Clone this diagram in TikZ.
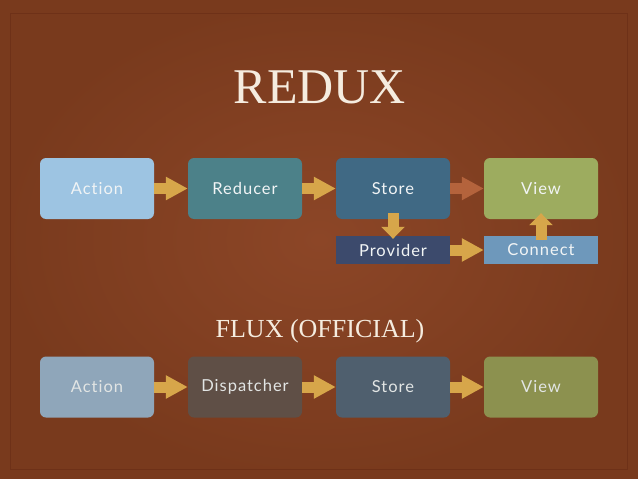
\documentclass[tikz,border=0pt]{standalone}
\usepackage{fontspec}
\setmainfont{Liberation Serif}
\newfontfamily\boxfont[LetterSpace=6,Ligatures=NoCommon]{Lato}
\usepackage{tikz}
\usetikzlibrary{arrows.meta,positioning}
\definecolor{bglight}{HTML}{8C4627}
\definecolor{bgdark}{HTML}{793A1D}
\definecolor{framecol}{HTML}{6E3118}
\definecolor{headcol}{HTML}{F5ECDF}
\definecolor{boxtext}{HTML}{F1F4F5}
\definecolor{dimtext}{HTML}{E2E5E4}
\definecolor{gold}{HTML}{D7A64A}
\definecolor{dimgold}{HTML}{B4633C}
\definecolor{actcol}{HTML}{9DC4E2}
\definecolor{redcol}{HTML}{4C8189}
\definecolor{stocol}{HTML}{406984}
\definecolor{viewcol}{HTML}{9DAC5F}
\definecolor{provcol}{HTML}{3C4A6C}
\definecolor{concol}{HTML}{6E98BB}
\definecolor{factcol}{HTML}{8FA6BA}
\definecolor{dispcol}{HTML}{5F4F46}
\definecolor{fstocol}{HTML}{4F5F6E}
\definecolor{fviewcol}{HTML}{8C914F}
\tikzstyle{box} = [rectangle,rounded corners=6pt,minimum width=114pt,minimum height=61pt,
  text=boxtext,font=\boxfont\fontsize{16.5}{18}\selectfont]
\tikzstyle{bar} = [rectangle,minimum width=114pt,minimum height=28pt,
  text=boxtext,font=\boxfont\fontsize{16.5}{18}\selectfont]
\tikzstyle{fat} = [line width=11pt,draw=gold,-{Triangle[width=22pt,length=22pt]}]
\tikzstyle{fatv} = [line width=11pt,draw=gold,-{Triangle[width=23pt,length=12pt]}]
\tikzstyle{headline} = [text=headcol,anchor=base]

\begin{document}
\begin{tikzpicture}[x=1pt,y=-1pt,node distance=148pt]
	
	\shade[inner color=bglight,outer color=bgdark] (0,0) rectangle (638,479);
	\draw[framecol,line width=0.7pt] (10,13) rectangle (627,469);
	
	\node[headline,font=\fontsize{50}{56}\selectfont] (t1) at (320,103) {REDUX};
	\node[headline,font=\fontsize{26}{30}\selectfont] (t2) at (320,337) {FLUX (OFFICIAL)};
	
	% redux
	\node[box,fill=actcol] (1) at (97,188.5) {Action};
	\node[box,fill=redcol] (2) [right of=1] {Reducer};
	\node[box,fill=stocol] (3) [right of=2] {Store};
	\node[box,fill=viewcol] (4) [right of=3] {View};
	\node[bar,fill=provcol] (5) [below of=3,node distance=61.5pt] {Provider};
	\node[bar,fill=concol] (6) [right of=5] {Connect};
	
	\draw[fat] (1) -- (2);
	\draw[fat] (2) -- (3);
	\draw[fat,draw=dimgold] (3) -- (4);
	\draw[fatv,shorten <=-6pt,shorten >=-3pt] (3) -- (5);
	\draw[fat] (5) -- (6);
	\draw[fatv,shorten <=-4pt,shorten >=-6pt] (6) -- (4);
	
	% flux
	\node[box,fill=factcol,text=dimtext] (7) at (97,387) {Action};
	\node[box,fill=dispcol,text=dimtext] (8) [right of=7] {Dispatcher};
	\node[box,fill=fstocol,text=dimtext] (9) [right of=8] {Store};
	\node[box,fill=fviewcol,text=dimtext] (10) [right of=9] {View};
	
	\draw[fat] (7) -- (8);
	\draw[fat] (8) -- (9);
	\draw[fat] (9) -- (10);
	
\end{tikzpicture}
\end{document}
